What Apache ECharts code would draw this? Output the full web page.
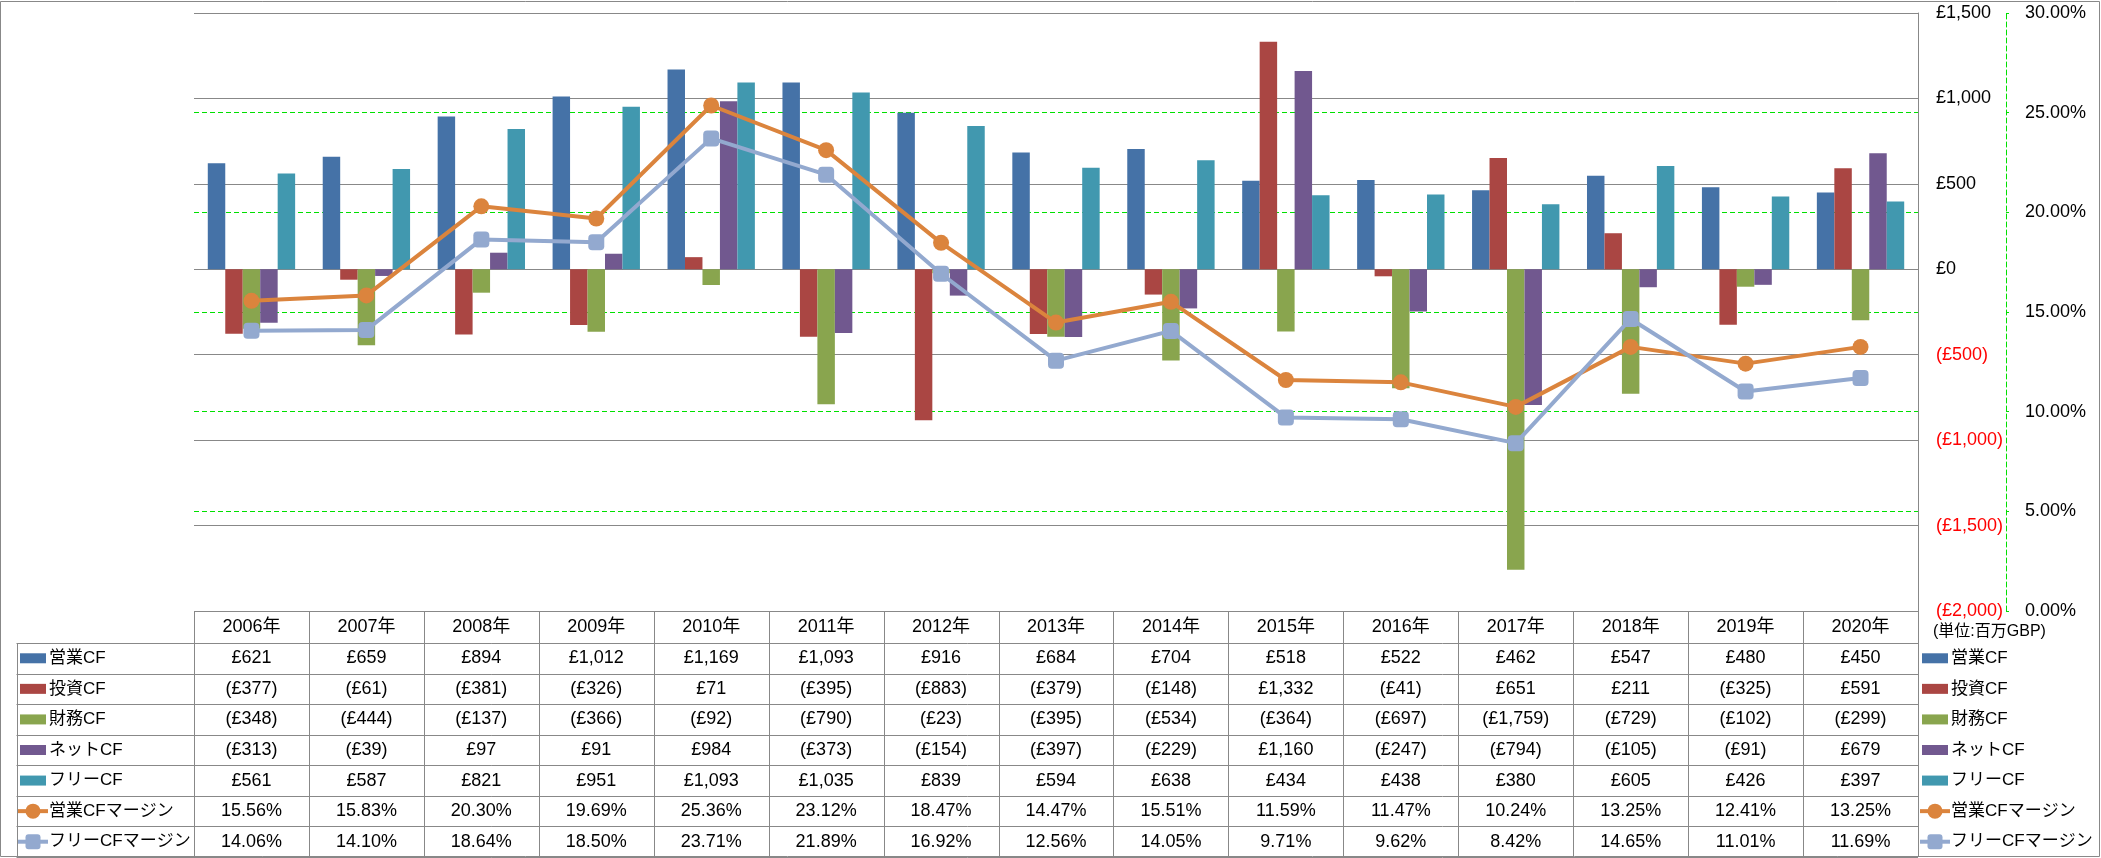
<!DOCTYPE html>
<html>
<head>
<meta charset="utf-8">
<title>キャッシュフロー推移</title>
<script src="https://cdn.jsdelivr.net/npm/echarts@6/dist/echarts.min.js"></script>
<style>
html, body { margin: 0; padding: 0; background: #fff; }
#main { width: 2101px; height: 858px; }
</style>
</head>
<body>
<div id="main"></div>
<script>
// データ (単位: 百万GBP)
var years = ["2006年", "2007年", "2008年", "2009年", "2010年", "2011年", "2012年", "2013年",
  "2014年", "2015年", "2016年", "2017年", "2018年", "2019年", "2020年"];
var opCF = [621, 659, 894, 1012, 1169, 1093, 916, 684, 704, 518, 522, 462, 547, 480, 450];
var invCF = [-377, -61, -381, -326, 71, -395, -883, -379, -148, 1332, -41, 651, 211, -325, 591];
var finCF = [-348, -444, -137, -366, -92, -790, -23, -395, -534, -364, -697, -1759, -729, -102, -299];
var netCF = [-313, -39, 97, 91, 984, -373, -154, -397, -229, 1160, -247, -794, -105, -91, 679];
var freeCF = [561, 587, 821, 951, 1093, 1035, 839, 594, 638, 434, 438, 380, 605, 426, 397];
var opMargin = [15.56, 15.83, 20.30, 19.69, 25.36, 23.12, 18.47, 14.47, 15.51, 11.59, 11.47, 10.24, 13.25, 12.41, 13.25];
var freeMargin = [14.06, 14.10, 18.64, 18.50, 23.71, 21.89, 16.92, 12.56, 14.05, 9.71, 9.62, 8.42, 14.65, 11.01, 11.69];
var names = ["営業CF", "投資CF", "財務CF", "ネットCF", "フリーCF", "営業CFマージン", "フリーCFマージン"];

var colors = ["#4572A7", "#AA4643", "#89A54E", "#71588F", "#4198AF", "#DB843D", "#93A9CF"];
var FONT = "'Liberation Sans', 'Noto Sans CJK JP', sans-serif";
var GRID_C = "#888888";
var GREEN = "#00E000";

function money(v) {
  var s = String(Math.abs(v)).replace(/\B(?=(\d{3})+(?!\d))/g, ",");
  return v < 0 ? "(£" + s + ")" : "£" + s;
}
function pct(v) {
  return v.toFixed(2) + "%";
}

// 表のレイアウト
var W = 2101, H = 858;
var L = 194, R = 1918, T = 611;
var headH = 32, rowH = (857 - T - headH) / 7;
var labelL = 16.5;
var colW = (R - L) / years.length;

var rows = [opCF, invCF, finCF, netCF, freeCF, opMargin, freeMargin];
var els = [];

function hline(x1, x2, y) {
  y = Math.round(y) + 0.5;
  els.push({ type: "line", shape: { x1: x1, y1: y, x2: x2, y2: y }, style: { stroke: GRID_C, lineWidth: 1 }, silent: true });
}
function vline(x, y1, y2) {
  x = Math.round(x) + 0.5;
  els.push({ type: "line", shape: { x1: x, y1: y1, x2: x, y2: y2 }, style: { stroke: GRID_C, lineWidth: 1 }, silent: true });
}
function text(str, x, y, align, size, color) {
  els.push({
    type: "text", silent: true,
    style: {
      text: str, x: x, y: y, fill: color || "#000",
      font: (size || 18) + "px " + FONT,
      align: align, textAlign: align,
      verticalAlign: "middle", textVerticalAlign: "middle"
    }
  });
}
function key(i, x, y) {
  if (i < 5) {
    els.push({ type: "rect", silent: true, shape: { x: x, y: y - 5, width: 26, height: 10 }, style: { fill: colors[i] } });
  } else {
    els.push({ type: "line", silent: true, shape: { x1: x - 2, y1: y, x2: x + 28, y2: y }, style: { stroke: colors[i], lineWidth: 4 } });
    if (i === 5) {
      els.push({ type: "circle", silent: true, shape: { cx: x + 13, cy: y, r: 7.5 }, style: { fill: colors[i] } });
    } else {
      els.push({ type: "rect", silent: true, shape: { x: x + 5.5, y: y - 7.5, width: 15, height: 15, r: 3 }, style: { fill: colors[i] } });
    }
  }
}

// 外枠
els.push({ type: "rect", silent: true, shape: { x: 0.5, y: 1.5, width: W - 2, height: H - 3 }, style: { fill: null, stroke: GRID_C, lineWidth: 1 } });

// 見出し行
hline(L, R, T);
for (var c = 0; c <= years.length; c++) {
  vline(L + c * colW, T, T + headH + rowH * 7);
}
years.forEach(function (y, c) {
  text(y, L + (c + 0.5) * colW, T + headH / 2, "center");
});
vline(labelL, T + headH, T + headH + rowH * 7);

rows.forEach(function (row, r) {
  var rowTop = T + headH + r * rowH;
  var mid = rowTop + rowH / 2;
  hline(labelL, R, rowTop);
  key(r, 20, mid);
  text(names[r], 49, mid, "left", 17);
  key(r, 1922, mid);
  text(names[r], 1951, mid, "left", 17);
  row.forEach(function (v, c2) {
    text(r < 5 ? money(v) : pct(v), L + (c2 + 0.5) * colW, mid, "center");
  });
});
hline(labelL, R, T + headH + rowH * 7);
text("(単位:百万GBP)", 1933, 632, "left", 16);

var chart = echarts.init(document.getElementById("main"));

var barSeries = [opCF, invCF, finCF, netCF, freeCF].map(function (d, i) {
  return {
    name: names[i],
    type: "bar",
    data: d,
    barGap: "0%",
    barCategoryGap: "24%",
    itemStyle: { color: colors[i] },
    emphasis: { disabled: true }
  };
});

var lineSeries = [opMargin, freeMargin].map(function (d, i) {
  return {
    name: names[5 + i],
    type: "line",
    yAxisIndex: 1,
    data: d,
    symbol: i === 0 ? "circle" : "roundRect",
    symbolSize: 16,
    lineStyle: { color: colors[5 + i], width: 4 },
    itemStyle: { color: colors[5 + i] },
    emphasis: { disabled: true }
  };
});

chart.setOption({
  animation: false,
  textStyle: { fontFamily: FONT },
  grid: { left: L, right: W - R, top: 13, bottom: H - T, containLabel: false, outerBoundsMode: "none" },
  xAxis: {
    type: "category",
    data: years,
    axisLine: { show: false },
    axisTick: { show: false },
    axisLabel: { show: false },
    splitLine: { show: false }
  },
  yAxis: [
    {
      type: "value",
      position: "right",
      min: -2000,
      max: 1500,
      interval: 500,
      axisLine: { show: true, lineStyle: { color: GRID_C, width: 1 } },
      axisTick: { show: false },
      axisLabel: {
        margin: 18,
        fontSize: 18,
        fontFamily: FONT,
        formatter: function (v) {
          return v < 0 ? "{neg|" + money(v) + "}" : "{pos|" + money(v) + "}";
        },
        rich: {
          neg: { color: "#FF0000", fontSize: 18, fontFamily: FONT },
          pos: { color: "#000", fontSize: 18, fontFamily: FONT }
        }
      },
      splitLine: { show: true, lineStyle: { color: GRID_C, width: 1 } }
    },
    {
      type: "value",
      position: "right",
      offset: 88,
      min: 0,
      max: 30,
      interval: 5,
      axisLine: { show: true, lineStyle: { color: GREEN, width: 1, type: [5, 3] } },
      axisTick: { show: true, length: 3, lineStyle: { color: GREEN } },
      axisLabel: { margin: 19, fontSize: 18, color: "#000", fontFamily: FONT, formatter: pct },
      splitLine: { show: true, showMinLine: false, showMaxLine: false, lineStyle: { color: GREEN, width: 1, type: [5, 3] } }
    }
  ],
  series: barSeries.concat(lineSeries),
  graphic: { elements: els }
});
</script>
</body>
</html>
